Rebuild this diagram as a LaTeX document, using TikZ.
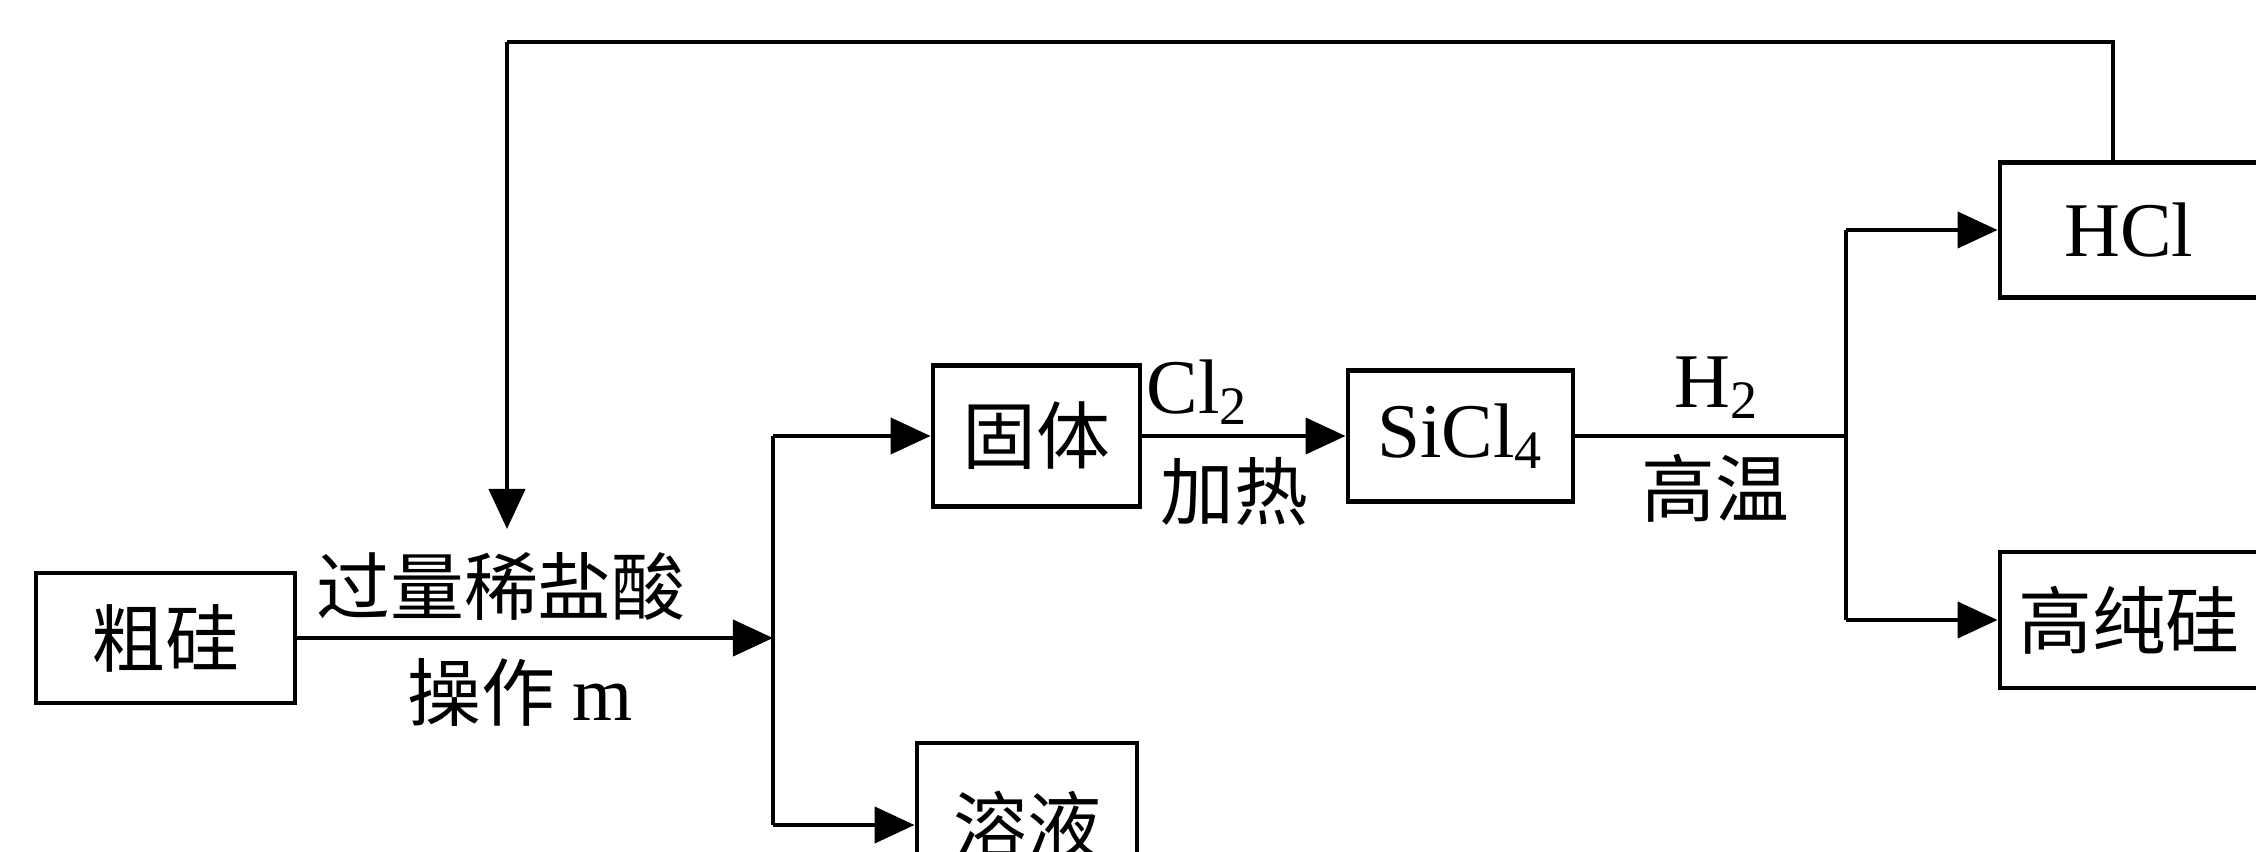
\documentclass[tikz,border=0pt]{standalone}
\usepackage{fontspec}
\setmainfont{Liberation Serif}
\newfontfamily\cjk{Noto Sans CJK SC}
\usetikzlibrary{arrows.meta}
\tikzset{
  box/.style={draw, line width=1.35pt, inner sep=0pt, anchor=center},
  cjktext/.style={font=\cjk\fontsize{21}{24}\selectfont, inner sep=0pt},
  latin/.style={font=\fontsize{22}{26}\selectfont, inner sep=0pt},
  line/.style={line width=1.2pt},
  arr/.style={line width=1.2pt, -{Triangle[length=0.4cm,width=0.36cm]}}
}
\begin{document}
\begin{tikzpicture}[x=0.01cm,y=-0.01cm]
\useasboundingbox (0,0) rectangle (2256,852);
% boxes
\node[box, cjktext, minimum width=2.59cm, minimum height=1.30cm] (cu) at (165.5,638) {粗硅};
\node[box, cjktext, minimum width=2.07cm, minimum height=1.41cm] (gt) at (1036.5,436) {固体};
\node[box, cjktext, minimum width=2.20cm, minimum height=1.64cm] (ry) at (1027,825) {溶液};
\node[box, latin, minimum width=2.25cm, minimum height=1.31cm] (si) at (1460.5,436) {SiCl\textsubscript{4}};
\node[box, latin, minimum width=2.58cm, minimum height=1.35cm] (hcl) at (2129,230) {HCl};
\node[box, cjktext, minimum width=2.58cm, minimum height=1.36cm] (gcg) at (2129,620) {高纯硅};
% junction coordinates
\coordinate (j1) at (773,638);
\coordinate (j1t) at (773,436);
\coordinate (j1b) at (773,825);
\coordinate (j2) at (1846,436);
\coordinate (j2t) at (1846,230);
\coordinate (j2b) at (1846,620);
\coordinate (lr) at (2113,42);
\coordinate (ll) at (507,42);
\coordinate (ld) at (507,529);
% connectors
\draw[arr] (cu.east) -- (j1);
\draw[line] (j1t) -- (j1b);
\draw[arr] (j1t) -- (gt.west);
\draw[arr] (j1b) -- (ry.west);
\draw[arr] (gt.east) -- (si.west);
\draw[line] (si.east) -- (j2);
\draw[line] (j2t) -- (j2b);
\draw[arr] (j2t) -- (hcl.west);
\draw[arr] (j2b) -- (gcg.west);
\draw[line] (hcl.north -| lr) -- (lr) -- (ll);
\draw[arr] (ll) -- (ld);
% labels
\node[cjktext] (l1) at (501,586) {过量稀盐酸};
\node[cjktext] (l2) at (520,692) {操作 {\rmfamily\fontsize{22}{26}\selectfont m}};
\node[latin, anchor=west] (l3) at (1146,392) {Cl\textsubscript{2}};
\node[cjktext] (l4) at (1234,492) {加热};
\node[latin] (l5) at (1717,388) {H\textsubscript{2}};
\node[cjktext] (l6) at (1715,488) {高温};
\end{tikzpicture}
\end{document}
